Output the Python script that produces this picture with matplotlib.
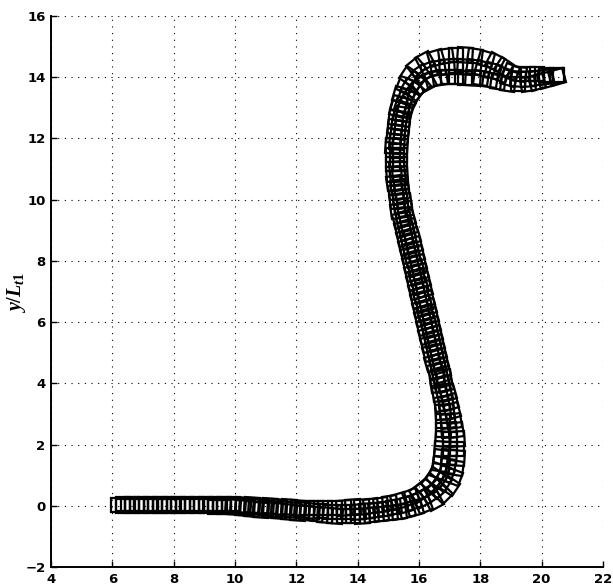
import numpy as np
import matplotlib
matplotlib.use("Agg")
import matplotlib.pyplot as plt
from matplotlib.markers import MarkerStyle
from matplotlib.transforms import Affine2D

# ---- data (three tracks of square markers) ----
track_mid = [
    (6.20, 0.02), (6.50, 0.02), (6.80, 0.02), (7.10, 0.03), (7.40, 0.03), (7.70, 0.03),
    (8.00, 0.03), (8.30, 0.03), (8.60, 0.03), (8.90, 0.02), (9.20, 0.02), (9.50, 0.01),
    (9.80, 0.00), (10.10, -0.01), (10.40, -0.03), (10.70, -0.05), (11.00, -0.07),
    (11.30, -0.09), (11.60, -0.11), (11.90, -0.13), (12.20, -0.15), (12.50, -0.17),
    (12.80, -0.18), (13.10, -0.19), (13.40, -0.20), (13.70, -0.20), (14.00, -0.19),
    (14.30, -0.17), (14.60, -0.14), (14.90, -0.10), (15.20, -0.05), (15.50, 0.02),
    (15.80, 0.11), (16.08, 0.22), (16.35, 0.37), (16.58, 0.56), (16.76, 0.78),
    (16.88, 1.03), (16.95, 1.30), (16.98, 1.58), (17.00, 1.87), (17.00, 2.17),
    (16.99, 2.47), (16.96, 2.77), (16.92, 3.07), (16.87, 3.37), (16.81, 3.67),
    (16.74, 3.97), (16.68, 4.27), (16.61, 4.56), (16.54, 4.86), (16.48, 5.15),
    (16.41, 5.44), (16.35, 5.73), (16.28, 6.02), (16.21, 6.31), (16.15, 6.60),
    (16.08, 6.90), (16.02, 7.19), (15.95, 7.48), (15.89, 7.77), (15.82, 8.06),
    (15.75, 8.35), (15.68, 8.64), (15.61, 8.93), (15.54, 9.22), (15.47, 9.51),
    (15.42, 9.80), (15.37, 10.10), (15.33, 10.40), (15.30, 10.70), (15.28, 11.00),
    (15.27, 11.30), (15.27, 11.60), (15.28, 11.90), (15.31, 12.20), (15.35, 12.50),
    (15.40, 12.80), (15.47, 13.09), (15.57, 13.37), (15.70, 13.64), (15.87, 13.89),
    (16.08, 14.09), (16.33, 14.23), (16.61, 14.31), (16.90, 14.35), (17.20, 14.36),
    (17.50, 14.35), (17.80, 14.33), (18.10, 14.28), (18.40, 14.20), (18.68, 14.09),
    (18.95, 13.98), (19.24, 13.94), (19.54, 13.94), (19.84, 13.97), (20.14, 14.00),
    (20.50, 14.05),
]

track_left = [
    (6.35, 0.06), (6.65, 0.06), (6.95, 0.06), (7.25, 0.07), (7.55, 0.07), (7.85, 0.07),
    (8.15, 0.07), (8.45, 0.07), (8.75, 0.07), (9.05, 0.07), (9.35, 0.06), (9.65, 0.06),
    (9.95, 0.05), (10.25, 0.04), (10.55, 0.02), (10.85, 0.00), (11.15, -0.01),
    (11.45, -0.03), (11.75, -0.04), (12.05, -0.06), (12.35, -0.07), (12.65, -0.07),
    (12.95, -0.07), (13.25, -0.07), (13.55, -0.06), (13.85, -0.04), (14.15, -0.03),
    (14.45, 0.00), (14.75, 0.03), (15.05, 0.08), (15.35, 0.14), (15.74, 0.29),
    (15.99, 0.42), (16.21, 0.58), (16.39, 0.75), (16.52, 0.93), (16.62, 1.13),
    (16.69, 1.36), (16.72, 1.60), (16.75, 1.87), (16.77, 2.17), (16.78, 2.46),
    (16.78, 2.76), (16.77, 3.05), (16.74, 3.34), (16.69, 3.65), (16.63, 3.95),
    (16.59, 4.17), (16.54, 4.39), (16.47, 4.68), (16.40, 4.98), (16.34, 5.27),
    (16.27, 5.56), (16.21, 5.85), (16.14, 6.14), (16.07, 6.43), (16.01, 6.72),
    (15.94, 7.02), (15.88, 7.31), (15.81, 7.60), (15.75, 7.89), (15.68, 8.18),
    (15.61, 8.47), (15.54, 8.76), (15.47, 9.05), (15.40, 9.34), (15.33, 9.63),
    (15.29, 9.95), (15.24, 10.25), (15.20, 10.55), (15.17, 10.85), (15.15, 11.15),
    (15.15, 11.45), (15.16, 11.75), (15.19, 12.07), (15.22, 12.37), (15.26, 12.67),
    (15.31, 12.97), (15.36, 13.12), (15.42, 13.43), (15.53, 13.74), (15.68, 14.05),
    (15.91, 14.32), (16.21, 14.52), (16.54, 14.63), (16.87, 14.70), (17.20, 14.72),
    (17.50, 14.71), (17.84, 14.68), (18.17, 14.60), (18.49, 14.49), (18.77, 14.32),
    (19.00, 14.17), (19.25, 14.10), (19.54, 14.09), (19.84, 14.09), (20.14, 14.08),
    (20.50, 14.08),
]

track_right = [
    (6.35, -0.02), (6.65, -0.02), (6.95, -0.02), (7.25, -0.01), (7.55, -0.01),
    (7.85, -0.01), (8.15, -0.01), (8.45, -0.01), (8.75, -0.02), (9.05, -0.02),
    (9.35, -0.03), (9.65, -0.04), (9.95, -0.05), (10.25, -0.08), (10.55, -0.10),
    (10.85, -0.13), (11.15, -0.15), (11.45, -0.17), (11.75, -0.20), (12.05, -0.22),
    (12.35, -0.25), (12.65, -0.28), (12.95, -0.31), (13.25, -0.33), (13.55, -0.35),
    (13.85, -0.35), (14.15, -0.34), (14.45, -0.31), (14.75, -0.28), (15.05, -0.24),
    (15.35, -0.19), (15.61, -0.14), (15.86, -0.07), (16.17, 0.02), (16.49, 0.16),
    (16.77, 0.37), (17.00, 0.63), (17.14, 0.93), (17.21, 1.24), (17.24, 1.56),
    (17.25, 1.87), (17.23, 2.17), (17.20, 2.48), (17.14, 2.78), (17.07, 3.09),
    (17.00, 3.40), (16.93, 3.69), (16.85, 3.99), (16.81, 4.21), (16.76, 4.44),
    (16.69, 4.73), (16.62, 5.03), (16.56, 5.32), (16.49, 5.61), (16.43, 5.90),
    (16.36, 6.19), (16.29, 6.48), (16.23, 6.77), (16.16, 7.07), (16.10, 7.36),
    (16.03, 7.65), (15.97, 7.94), (15.90, 8.23), (15.83, 8.52), (15.76, 8.81),
    (15.69, 9.10), (15.62, 9.39), (15.55, 9.68), (15.51, 9.95), (15.46, 10.25),
    (15.42, 10.55), (15.39, 10.85), (15.37, 11.15), (15.37, 11.45), (15.38, 11.75),
    (15.41, 12.04), (15.44, 12.34), (15.48, 12.64), (15.53, 12.94), (15.58, 13.06),
    (15.72, 13.31), (15.87, 13.54), (16.06, 13.73), (16.25, 13.86), (16.45, 13.94),
    (16.68, 13.99), (16.93, 14.00), (17.20, 14.00), (17.50, 13.99), (17.76, 13.98),
    (18.03, 13.96), (18.31, 13.91), (18.59, 13.86), (18.90, 13.79), (19.23, 13.78),
    (19.54, 13.79), (19.84, 13.85), (20.14, 13.92), (20.50, 14.02),
]

x_ticks = [4, 6, 8, 10, 12, 14, 16, 18, 20, 22]
y_ticks = [-2, 0, 2, 4, 6, 8, 10, 12, 14, 16]
y_label = r'$y/L_{t1}$'

# ---- figure ----
plt.rcParams['mathtext.fontset'] = 'custom'
plt.rcParams['mathtext.it'] = 'Liberation Serif:italic:bold'
plt.rcParams['mathtext.rm'] = 'Liberation Serif:bold'
plt.rcParams['axes.unicode_minus'] = True

fig = plt.figure(figsize=(6.13, 5.87), dpi=100)
ax = fig.add_axes([51 / 613, 20 / 587, 552 / 613, 551 / 587])

for track in (track_mid, track_left, track_right):
    arr = np.array(track)
    xs, ys = arr[:, 0], arr[:, 1]
    ang = np.degrees(np.arctan2(np.gradient(ys), np.gradient(xs)))
    for xv, yv, a in zip(xs, ys, ang):
        m = MarkerStyle('s', transform=Affine2D().rotate_deg(a))
        ax.plot([xv], [yv], linestyle='none', marker=m, markersize=10.3,
                markerfacecolor='none', markeredgecolor='black',
                markeredgewidth=1.6, zorder=3)

ax.set_xlim(4, 22)
ax.set_ylim(-2, 16)
ax.set_xticks(x_ticks)
ax.set_yticks(y_ticks)
ax.set_xticklabels([str(t).replace('-', '\u2212') for t in x_ticks])
ax.set_yticklabels([str(t).replace('-', '\u2212') for t in y_ticks])

ax.grid(True, color='black', linestyle=(0, (1, 5)), linewidth=0.8)
ax.set_axisbelow(True)

for s in ('top', 'right'):
    ax.spines[s].set_visible(False)
for s in ('left', 'bottom'):
    ax.spines[s].set_linewidth(1.4)

ax.tick_params(direction='in', length=4, width=1, labelsize=9.5,
               top=False, right=False)
ax.tick_params(axis='x', pad=4)
ax.tick_params(axis='y', pad=4)
for lbl in ax.get_xticklabels() + ax.get_yticklabels():
    lbl.set_fontweight('bold')
    lbl.set_family('DejaVu Sans')

fig.text(17 / 613, 1 - 292 / 587, y_label, rotation=90, fontsize=14.5,
         ha='center', va='center')

fig.savefig('out.png', dpi=100)
